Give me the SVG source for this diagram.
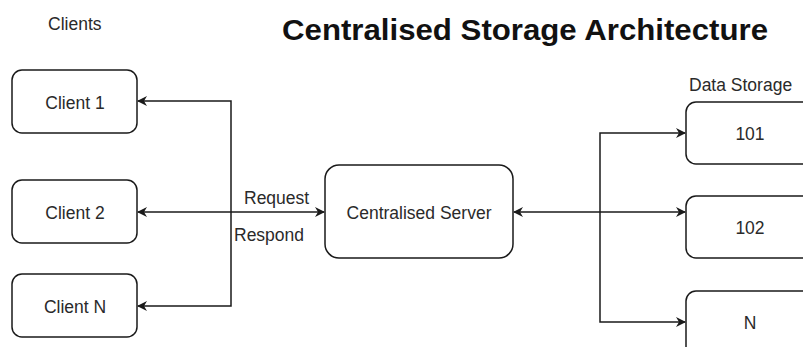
<svg xmlns="http://www.w3.org/2000/svg" width="803" height="347" viewBox="0 0 803 347">
<style>
.box{fill:#fff;stroke:#1a1a1a;stroke-width:1.5}
.t{font-family:"Liberation Sans",Arial,sans-serif;font-size:17.5px;fill:#2a2a2a}
.c{text-anchor:middle}
.ln{fill:none;stroke:#1a1a1a;stroke-width:1.5}
</style>
<defs>
<marker id="ah" viewBox="0 0 10 10" refX="9" refY="5" markerWidth="10" markerHeight="10" markerUnits="userSpaceOnUse" orient="auto-start-reverse">
<path d="M0,0 L10,5 L0,10 L3,5 Z" fill="#1a1a1a"/>
</marker>
</defs>
<rect width="803" height="347" fill="#fff"/>
<text class="t" x="48" y="30">Clients</text>
<text x="282" y="40" font-family="Liberation Sans,Arial,sans-serif" font-size="29" font-weight="bold" fill="#111" textLength="486" lengthAdjust="spacingAndGlyphs">Centralised Storage Architecture</text>
<text class="t" x="689" y="91">Data Storage</text>
<g id="client1"><rect class="box" x="12" y="70" width="125" height="63" rx="10"/><text class="t c" x="75" y="109">Client 1</text></g>
<g id="client2"><rect class="box" x="12" y="180" width="125" height="63" rx="10"/><text class="t c" x="75" y="219">Client 2</text></g>
<g id="clientN"><rect class="box" x="12" y="274" width="125" height="63" rx="10"/><text class="t c" x="75" y="313">Client N</text></g>
<g id="server"><rect class="box" x="325" y="165" width="188" height="93" rx="14"/><text class="t c" x="419" y="219">Centralised Server</text></g>
<g id="s101"><rect class="box" x="686" y="102" width="130" height="62" rx="10"/><text class="t c" x="750" y="140">101</text></g>
<g id="s102"><rect class="box" x="686" y="196" width="130" height="62" rx="10"/><text class="t c" x="750" y="234">102</text></g>
<g id="sN"><rect class="box" x="686" y="291" width="130" height="70" rx="10"/><text class="t c" x="750" y="329">N</text></g>
<g id="connectors">
<path class="ln" d="M231,212 L231,101 L138,101" marker-end="url(#ah)"/>
<path class="ln" d="M231,212 L231,306 L138,306" marker-end="url(#ah)"/>
<path class="ln" d="M138,212 L324,212" marker-start="url(#ah)" marker-end="url(#ah)"/>
<path class="ln" d="M514,212 L685,212" marker-start="url(#ah)" marker-end="url(#ah)"/>
<path class="ln" d="M600,212 L600,133 L685,133" marker-end="url(#ah)"/>
<path class="ln" d="M600,212 L600,322 L685,322" marker-end="url(#ah)"/>
<text class="t" x="244" y="204">Request</text>
<text class="t" x="234" y="241">Respond</text>
</g>
</svg>
